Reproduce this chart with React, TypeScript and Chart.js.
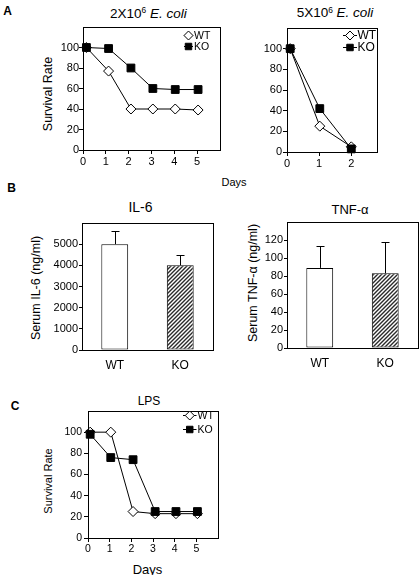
import React, { useEffect, useRef } from "react";
import { Chart, registerables } from "chart.js";

Chart.register(...registerables);

const FONT = "'Liberation Sans', Arial, Helvetica, sans-serif";
Chart.defaults.font.family = FONT;
Chart.defaults.color = "#000";

// ---------- Data ----------
// Panel A, left: 2x10^6 E. coli (x = day as plotted, y = survival %)
const dayA1 = [0.15, 1.12, 2.1, 3.06, 4.04, 5.04];
const wtA1 = [100, 77, 40, 40, 40, 39];
const koA1 = [100, 99, 80, 60, 59, 59];

// Panel A, right: 5x10^6 E. coli
const dayA2 = [0.1, 1.02, 2.0];
const wtA2 = [100, 25, 5];
const koA2 = [100, 42, 3];

// Panel B: cytokines
const groups = ["WT", "KO"];
const il6 = [5000, 4000];
const il6Err = [600, 500];
const tnf = [89, 83];
const tnfErr = [24, 35];

// Panel C: LPS
const dayC = [0.1, 1.05, 2.08, 3.1, 4.06, 5.05];
const wtC = [100, 100, 25, 23, 23, 23];
const koC = [98, 76, 74, 25, 25, 25];

// Tick values
const survivalTicks = [0, 20, 40, 60, 80, 100];
const dayTicks5 = [0, 1, 2, 3, 4, 5];
const dayTicks2 = [0, 1, 2];
const il6Ticks = [0, 1000, 2000, 3000, 4000, 5000];
const tnfTicks = [0, 20, 40, 60, 80, 100, 120];

// ---------- helpers ----------
type Box = {
  left: number;
  top: number;
  width: number;
  height: number;
  yW: number;
  xH: number;
  padTop: number;
  padRight: number;
};

const boxPlugin = {
  id: "frameBox",
  afterDraw(chart: any) {
    const { ctx, chartArea } = chart;
    const { left, right, top, bottom } = chartArea;
    ctx.save();
    ctx.strokeStyle = "#000";
    ctx.lineWidth = 1;
    ctx.strokeRect(
      Math.round(left) + 0.5,
      Math.round(top) + 0.5,
      Math.round(right) - Math.round(left),
      Math.round(bottom) - Math.round(top)
    );
    ctx.restore();
  },
};

function drawMarker(ctx: CanvasRenderingContext2D, kind: string, x: number, y: number, r: number) {
  ctx.beginPath();
  if (kind === "diamond") {
    ctx.moveTo(x, y - r);
    ctx.lineTo(x + r, y);
    ctx.lineTo(x, y + r);
    ctx.lineTo(x - r, y);
    ctx.closePath();
    ctx.fillStyle = "#fff";
    ctx.fill();
    ctx.stroke();
  } else {
    const s = r * 0.72;
    ctx.rect(x - s, y - s, 2 * s, 2 * s);
    ctx.fillStyle = "#000";
    ctx.fill();
    ctx.stroke();
  }
}

function legendPlugin(cfg: { rows: number[]; x1: number; x2: number; tx: number; size: number; r: number }) {
  return {
    id: "insideLegend",
    afterDraw(chart: any) {
      const { ctx, chartArea } = chart;
      const { right, top } = chartArea;
      const items = [
        { label: "WT", kind: "diamond" },
        { label: "KO", kind: "square" },
      ];
      ctx.save();
      ctx.strokeStyle = "#000";
      ctx.lineWidth = 1;
      ctx.font = `${cfg.size}px ${FONT}`;
      ctx.textBaseline = "middle";
      ctx.textAlign = "left";
      items.forEach((it, i) => {
        const y = Math.round(top + cfg.rows[i]) + 0.5;
        ctx.beginPath();
        ctx.moveTo(right + cfg.x1, y);
        ctx.lineTo(right + cfg.x2, y);
        ctx.stroke();
        drawMarker(ctx, it.kind, right + (cfg.x1 + cfg.x2) / 2, y, cfg.r);
        ctx.fillStyle = "#000";
        ctx.fillText(it.label, right + cfg.tx, y + 0.5);
      });
      ctx.restore();
    },
  };
}

function errorBarPlugin(errs: number[]) {
  return {
    id: "errorBars",
    afterDatasetsDraw(chart: any) {
      const meta = chart.getDatasetMeta(0);
      const ys = chart.scales.y;
      const ctx = chart.ctx;
      const vals = chart.data.datasets[0].data as number[];
      ctx.save();
      ctx.strokeStyle = "#000";
      ctx.lineWidth = 1;
      meta.data.forEach((bar: any, i: number) => {
        const x = Math.round(bar.x) + 0.5;
        const yTop = Math.round(ys.getPixelForValue(vals[i] + errs[i])) + 0.5;
        ctx.beginPath();
        ctx.moveTo(x, bar.y);
        ctx.lineTo(x, yTop);
        ctx.moveTo(x - 4, yTop);
        ctx.lineTo(x + 4, yTop);
        ctx.stroke();
      });
      ctx.restore();
    },
  };
}

function makeHatch(): CanvasPattern | string {
  const c = document.createElement("canvas");
  c.width = 4;
  c.height = 4;
  const g = c.getContext("2d");
  if (!g) return "#555";
  g.fillStyle = "#fff";
  g.fillRect(0, 0, 4, 4);
  g.strokeStyle = "#2a2a2a";
  g.lineWidth = 1.4;
  g.beginPath();
  g.moveTo(-1, 5);
  g.lineTo(5, -1);
  g.moveTo(-1, 1);
  g.lineTo(1, -1);
  g.moveTo(3, 5);
  g.lineTo(5, 3);
  g.stroke();
  const p = g.createPattern(c, "repeat");
  return p || "#555";
}

function setTicks(values: number[]) {
  return (s: any) => {
    s.ticks = values.map((v) => ({ value: v }));
  };
}

function yLinear(max: number, tickVals: number[], w: number, size: number, tickLen: number, pad: number) {
  return {
    type: "linear",
    min: 0,
    max,
    ticks: { font: { size }, color: "#000", padding: pad, callback: (v: any) => String(v) },
    afterBuildTicks: setTicks(tickVals),
    afterFit: (s: any) => {
      s.width = w;
    },
    grid: { display: true, drawOnChartArea: false, drawTicks: true, tickLength: tickLen, color: "#000", lineWidth: 1 },
    border: { display: false },
  };
}

function xLinear(max: number, tickVals: number[], h: number, size: number, pad: number) {
  return {
    type: "linear",
    min: 0,
    max,
    ticks: { font: { size }, color: "#000", padding: pad, maxRotation: 0, autoSkip: false, callback: (v: any) => String(v) },
    afterBuildTicks: setTicks(tickVals),
    afterFit: (s: any) => {
      s.height = h;
    },
    grid: { display: true, drawOnChartArea: false, drawTicks: true, tickLength: 4, color: "#000", lineWidth: 1 },
    border: { display: false },
  };
}

function lineDatasets(days: number[], wt: number[], ko: number[]) {
  return [
    {
      label: "KO",
      data: days.map((d, i) => ({ x: d, y: ko[i] })),
      borderColor: "#000",
      borderWidth: 1,
      pointStyle: "rect",
      pointRadius: 5.5,
      pointBackgroundColor: "#000",
      pointBorderColor: "#000",
      pointBorderWidth: 1,
      clip: false,
      tension: 0,
    },
    {
      label: "WT",
      data: days.map((d, i) => ({ x: d, y: wt[i] })),
      borderColor: "#000",
      borderWidth: 1,
      pointStyle: "rectRot",
      pointRadius: 5,
      pointBackgroundColor: "#fff",
      pointBorderColor: "#000",
      pointBorderWidth: 1,
      clip: false,
      tension: 0,
    },
  ];
}

function baseOptions(box: Box) {
  return {
    responsive: false,
    animation: false,
    events: [],
    layout: { padding: { top: box.padTop, right: box.padRight, left: 0, bottom: 0 }, autoPadding: false },
    plugins: { legend: { display: false }, tooltip: { enabled: false }, title: { display: false } },
  };
}

function ChartCanvas({ box, build }: { box: Box; build: () => any }) {
  const ref = useRef<HTMLCanvasElement>(null);
  useEffect(() => {
    if (!ref.current) return;
    const chart = new Chart(ref.current, build());
    return () => chart.destroy();
  }, []);
  return (
    <canvas
      ref={ref}
      width={box.width}
      height={box.height}
      style={{ position: "absolute", left: box.left, top: box.top, width: box.width, height: box.height }}
    />
  );
}

function Label({
  x,
  y,
  size,
  bold,
  rot,
  children,
}: {
  x: number;
  y: number;
  size: number;
  bold?: boolean;
  rot?: boolean;
  children: React.ReactNode;
}) {
  return (
    <div
      style={{
        position: "absolute",
        left: x,
        top: y,
        transform: `translate(-50%, -50%)${rot ? " rotate(-90deg)" : ""}`,
        fontFamily: FONT,
        fontSize: size,
        fontWeight: bold ? "bold" : "normal",
        lineHeight: 1,
        whiteSpace: "nowrap",
        color: "#000",
      }}
    >
      {children}
    </div>
  );
}

const sup: React.CSSProperties = { fontSize: "0.62em", position: "relative", top: "-0.5em", verticalAlign: "baseline", lineHeight: 0 };

// ---------- boxes ----------
const boxA1: Box = { left: 30, top: 17, width: 200, height: 153, yW: 53, xH: 20, padTop: 10, padRight: 10 };
const boxA2: Box = { left: 240, top: 18, width: 147, height: 154, yW: 47, xH: 20, padTop: 10, padRight: 10 };
const boxB1: Box = { left: 20, top: 213, width: 203, height: 165, yW: 62, xH: 28, padTop: 10, padRight: 10 };
const boxB2: Box = { left: 240, top: 212, width: 179, height: 164, yW: 47, xH: 28, padTop: 10, padRight: 1 };
const boxC: Box = { left: 30, top: 401, width: 198, height: 157, yW: 58, xH: 20, padTop: 10, padRight: 10 };

function buildA1() {
  return {
    type: "line",
    data: { datasets: lineDatasets(dayA1, wtA1, koA1) },
    options: {
      ...baseOptions(boxA1),
      scales: {
        x: xLinear(6, dayTicks5, boxA1.xH, 11, 1),
        y: yLinear(120, survivalTicks, boxA1.yW, 11, 4, 0),
      },
    },
    plugins: [boxPlugin, legendPlugin({ rows: [8, 19], x1: -36, x2: -27, tx: -26, size: 10.5, r: 4.5 })],
  };
}

function buildA2() {
  return {
    type: "line",
    data: { datasets: lineDatasets(dayA2, wtA2, koA2) },
    options: {
      ...baseOptions(boxA2),
      scales: {
        x: xLinear(2.8, dayTicks2, boxA2.xH, 11, 1),
        y: yLinear(120, survivalTicks, boxA2.yW, 11, 4, 1),
      },
    },
    plugins: [boxPlugin, legendPlugin({ rows: [7, 19], x1: -34, x2: -20, tx: -19.5, size: 12, r: 4.5 })],
  };
}

function buildBar(box: Box, values: number[], errs: number[], max: number, tickVals: number[]) {
  return {
    type: "bar",
    data: {
      labels: groups,
      datasets: [
        {
          data: values,
          backgroundColor: ["#fff", makeHatch()],
          borderColor: "#000",
          borderWidth: 1,
          borderSkipped: false,
          barPercentage: 0.41,
          categoryPercentage: 1,
        },
      ],
    },
    options: {
      ...baseOptions(box),
      scales: {
        x: {
          type: "category",
          ticks: { font: { size: 12 }, color: "#000", padding: 8 },
          grid: { display: false, drawTicks: false, tickLength: 0 },
          border: { display: false },
          afterFit: (s: any) => {
            s.height = box.xH;
          },
        },
        y: yLinear(max, tickVals, box.yW, 11, 3, 1),
      },
    },
    plugins: [errorBarPlugin(errs), boxPlugin],
  };
}

function buildC() {
  return {
    type: "line",
    data: { datasets: lineDatasets(dayC, wtC, koC) },
    options: {
      ...baseOptions(boxC),
      scales: {
        x: xLinear(6, dayTicks5, boxC.xH, 10.5, 1),
        y: yLinear(120, survivalTicks, boxC.yW, 10.5, 4, 2),
      },
    },
    plugins: [boxPlugin, legendPlugin({ rows: [4, 18], x1: -35, x2: -21.5, tx: -20.5, size: 10.5, r: 4.5 })],
  };
}

export default function App() {
  return (
    <div style={{ position: "absolute", left: 0, top: 0, width: 419, height: 575, background: "#fff", overflow: "hidden" }}>
      <Label x={7.5} y={10.8} size={12} bold>
        A
      </Label>
      <Label x={148.3} y={13.5} size={13.5}>
        2X10<span style={sup}>6</span> <i>E. coli</i>
      </Label>
      <Label x={335} y={13} size={13.5}>
        5X10<span style={sup}>6</span> <i>E. coli</i>
      </Label>
      <Label x={48} y={93.8} size={12.5} rot>
        Survival Rate
      </Label>
      <Label x={234} y={182} size={11}>
        Days
      </Label>

      <Label x={11.7} y={187.5} size={12} bold>
        B
      </Label>
      <Label x={140.5} y={206.7} size={14}>
        IL-6
      </Label>
      <Label x={35.5} y={288.3} size={12.5} rot>
        Serum IL-6 (ng/ml)
      </Label>
      <Label x={350} y={209} size={13}>
        TNF-α
      </Label>
      <Label x={252.5} y={283.3} size={12.5} rot>
        Serum TNF-α (ng/ml)
      </Label>

      <Label x={15} y={405.5} size={12} bold>
        C
      </Label>
      <Label x={149} y={401} size={12}>
        LPS
      </Label>
      <Label x={47.5} y={480.8} size={11} rot>
        Survival Rate
      </Label>
      <Label x={147.5} y={568.5} size={13}>
        Days
      </Label>

      <ChartCanvas box={boxA1} build={buildA1} />
      <ChartCanvas box={boxA2} build={buildA2} />
      <ChartCanvas box={boxB1} build={() => buildBar(boxB1, il6, il6Err, 6000, il6Ticks)} />
      <ChartCanvas box={boxB2} build={() => buildBar(boxB2, tnf, tnfErr, 140, tnfTicks)} />
      <ChartCanvas box={boxC} build={buildC} />
    </div>
  );
}
